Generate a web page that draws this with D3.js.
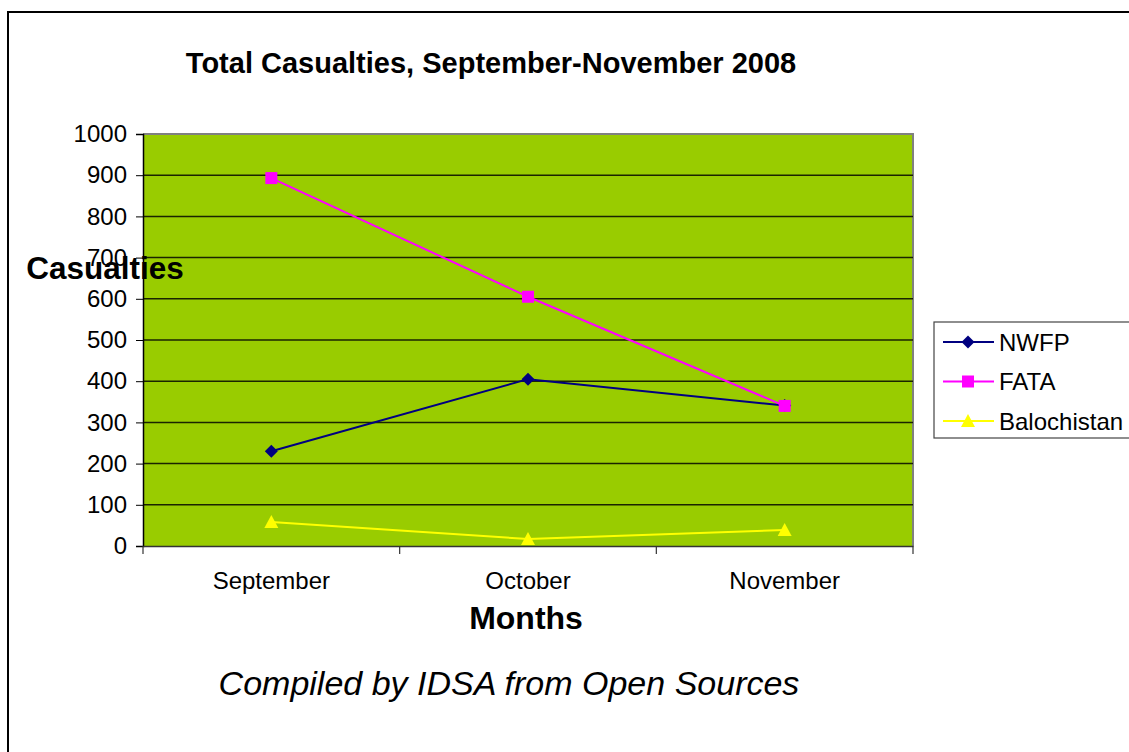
<!DOCTYPE html>
<html>
<head>
<meta charset="utf-8">
<script src="https://cdn.jsdelivr.net/npm/d3@7"></script>
<style>
  html, body { margin: 0; padding: 0; background: #fff; }
  svg { display: block; font-family: "Liberation Sans", Arial, sans-serif; }
</style>
</head>
<body>
<svg id="chart" width="1129" height="752"></svg>
<script>
const categories = ["September", "October", "November"];
const nwfp = [230, 405, 341];
const fata = [893, 605, 340];
const balochistan = [58, 17, 39];
const yTicks = [0, 100, 200, 300, 400, 500, 600, 700, 800, 900, 1000];
const seriesNames = ["NWFP", "FATA", "Balochistan"];

// custom symbols (size = half-width in px)
const diamond = { draw(ctx, r) { ctx.moveTo(0, -r); ctx.lineTo(r, 0); ctx.lineTo(0, r); ctx.lineTo(-r, 0); ctx.closePath(); } };
const square = { draw(ctx, r) { ctx.rect(-r, -r, 2 * r, 2 * r); } };
const triangle = { draw(ctx, r) { ctx.moveTo(0, -r); ctx.lineTo(r, r * 0.85); ctx.lineTo(-r, r * 0.85); ctx.closePath(); } };

const series = [
  { name: seriesNames[0], values: nwfp, color: "#000080", symbol: diamond, size: 6.5 },
  { name: seriesNames[1], values: fata, color: "#ff00ff", symbol: square, size: 6 },
  { name: seriesNames[2], values: balochistan, color: "#ffff00", symbol: triangle, size: 7 }
];

const svg = d3.select("#chart");
const pLeft = 143, pRight = 913, pTop = 134, pBottom = 546;
const FONT = "Liberation Sans, Arial, sans-serif";

// outer border (left + top visible)
svg.append("path").attr("d", "M8,752 L8,12 L1129,12")
  .attr("fill", "none").attr("stroke", "#000").attr("stroke-width", 2);

const x = d3.scaleBand().domain(categories).range([pLeft, pRight]);
const y = d3.scaleLinear().domain([0, 1000]).range([pBottom, pTop]);

// plot area
svg.append("rect").attr("x", pLeft).attr("y", pTop)
  .attr("width", pRight - pLeft).attr("height", pBottom - pTop)
  .attr("fill", "#99cc00");
svg.append("path").attr("d", `M${pLeft},${pTop} L${pRight},${pTop} L${pRight},${pBottom}`)
  .attr("fill", "none").attr("stroke", "#808080").attr("stroke-width", 2);

// gridlines
svg.append("g").selectAll("line").data(yTicks.filter(t => t > 0 && t < 1000)).join("line")
  .attr("x1", pLeft).attr("x2", pRight)
  .attr("y1", d => y(d)).attr("y2", d => y(d))
  .attr("stroke", "#1a2400").attr("stroke-width", 1.5);

// y axis
const yAxis = d3.axisLeft(y).tickValues(yTicks).tickFormat(d3.format("d")).tickSize(7).tickPadding(9);
const gy = svg.append("g").attr("transform", `translate(${pLeft},0)`).call(yAxis);
gy.select(".domain").attr("stroke", "#000").attr("stroke-width", 1.5);
gy.selectAll(".tick line").attr("stroke", "#000");
gy.selectAll("text").attr("font-size", 24).attr("fill", "#000").attr("font-family", FONT);

// x axis
const xAxis = d3.axisBottom(x).tickSize(0).tickPadding(0);
const gx = svg.append("g").attr("transform", `translate(0,${pBottom})`).call(xAxis);
gx.select(".domain").attr("stroke", "#333").attr("stroke-width", 1.5);
gx.selectAll("text").attr("font-size", 24).attr("fill", "#000").attr("font-family", FONT)
  .attr("dy", null).attr("y", 43);
const bounds = categories.map(c => x(c)).concat([x(categories[categories.length - 1]) + x.bandwidth()]);
svg.append("g").selectAll("line").data(bounds).join("line")
  .attr("x1", d => d).attr("x2", d => d)
  .attr("y1", pBottom).attr("y2", pBottom + 8)
  .attr("stroke", "#333").attr("stroke-width", 1.2);

// lines + markers
const line = d3.line().x((d, i) => x(categories[i]) + x.bandwidth() / 2).y(d => y(d));
series.forEach(s => {
  svg.append("path").datum(s.values).attr("d", line)
    .attr("fill", "none").attr("stroke", s.color).attr("stroke-width", 2);
});
series.forEach(s => {
  svg.append("g").selectAll("path").data(s.values).join("path")
    .attr("transform", (d, i) => `translate(${x(categories[i]) + x.bandwidth() / 2},${y(d)})`)
    .attr("d", d3.symbol().type(s.symbol).size(s.size))
    .attr("fill", s.color);
});

// titles
svg.append("text").attr("x", 491).attr("y", 73).attr("text-anchor", "middle")
  .attr("font-size", 29).attr("font-weight", "bold").text("Total Casualties, September-November 2008");
svg.append("text").attr("x", 105).attr("y", 279).attr("text-anchor", "middle")
  .attr("font-size", 31.5).attr("font-weight", "bold").text("Casualties");
svg.append("text").attr("x", 526).attr("y", 629).attr("text-anchor", "middle")
  .attr("font-size", 32).attr("font-weight", "bold").text("Months");
svg.append("text").attr("x", 509).attr("y", 695).attr("text-anchor", "middle")
  .attr("font-size", 34).attr("font-style", "italic").text("Compiled by IDSA from Open Sources");

// legend
const lg = svg.append("g");
lg.append("rect").attr("x", 934).attr("y", 322).attr("width", 200).attr("height", 116)
  .attr("fill", "#fff").attr("stroke", "#444").attr("stroke-width", 1.2);
series.forEach((s, i) => {
  const cy = 342 + i * 39.5;
  lg.append("line").attr("x1", 943).attr("x2", 994).attr("y1", cy).attr("y2", cy)
    .attr("stroke", s.color).attr("stroke-width", 2);
  lg.append("path").attr("transform", `translate(968,${cy})`)
    .attr("d", d3.symbol().type(s.symbol).size(s.size)).attr("fill", s.color);
  lg.append("text").attr("x", 999).attr("y", cy + 8.5).attr("font-size", 24).attr("font-family", FONT).text(s.name);
});
</script>
</body>
</html>
